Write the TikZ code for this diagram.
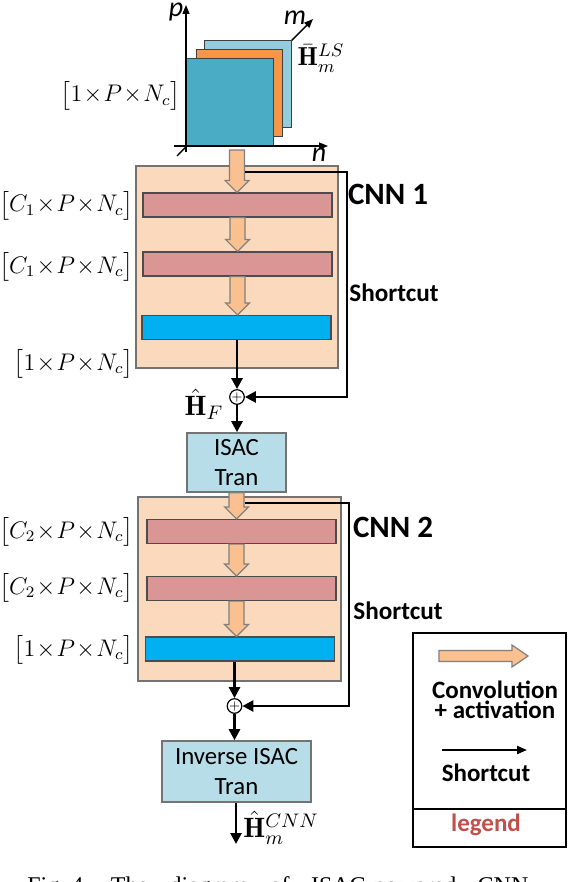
\RequirePackage{fix-cm}
\documentclass[tikz,border=0pt]{standalone}
\usepackage{amsmath,amssymb}
\usepackage{fontspec}
\setsansfont{Carlito}
\newfontfamily\capfont{Liberation Serif}
\usetikzlibrary{arrows.meta,calc,positioning}

\definecolor{sqback}{HTML}{93CDDD}
\definecolor{sqmid}{HTML}{F79646}
\definecolor{sqfront}{HTML}{4BACC6}
\definecolor{cnnfill}{HTML}{FBD9BC}
\definecolor{convfill}{HTML}{FAC090}
\definecolor{convlayer}{HTML}{D99694}
\definecolor{outlayer}{HTML}{00B0F0}
\definecolor{tranfill}{HTML}{B7DEE8}
\definecolor{legendred}{HTML}{C0504D}

\tikzset{
  cnnbox/.style={draw=black!55,line width=0.8pt,fill=cnnfill,inner sep=0pt},
  convbar/.style={draw=black!70,line width=0.6pt,fill=convlayer,minimum width=94.5pt,minimum height=12pt,inner sep=0pt},
  outbar/.style={convbar,fill=outlayer},
  tranbox/.style={draw=black!55,line width=0.8pt,fill=tranfill,align=center,inner sep=0pt,font=\sffamily\fontsize{12.4}{15}\selectfont},
  sumnode/.style={circle,draw,line width=0.6pt,fill=white,minimum size=6.5pt,inner sep=0pt,font=\fontsize{6}{6}\selectfont},
  flow/.style={line width=1.3pt,-{Triangle[length=5.5pt,width=5.5pt]}},
  dimlabel/.style={anchor=east,inner sep=0pt,font=\fontsize{12}{14}\selectfont},
  hlabel/.style={inner sep=0pt,font=\fontsize{14}{16}\selectfont},
  cnnname/.style={font=\sffamily\bfseries\fontsize{15.5}{18}\selectfont},
  shortname/.style={font=\sffamily\bfseries\fontsize{12.6}{15}\selectfont},
  axis/.style={line width=0.7pt,-{Triangle[length=4.5pt,width=3.5pt]}},
  axname/.style={inner sep=0pt,font=\sffamily\itshape\fontsize{14}{14}\selectfont},
  square/.style={draw=black!75,line width=0.5pt},
  legendtext/.style={font=\sffamily\bfseries\fontsize{12.5}{10}\selectfont,align=center},
}

% block arrow from the x and y of #1 down to the y of #2
\newcommand{\convarrow}[2]{%
  \filldraw[fill=convfill,draw=black!50,line width=0.6pt] let \p1=#1, \p2=#2 in
    (\x1-3.75pt,\y1) -- (\x1+3.75pt,\y1) -- (\x1+3.75pt,\y2+6pt) -- (\x1+6pt,\y2+6pt)
    -- (\x1,\y2) -- (\x1-6pt,\y2+6pt) -- (\x1-3.75pt,\y2+6pt) -- cycle;}
\newcommand{\dimtext}[1]{$\big[#1\!\times\! P\!\times\! N_c\big]$}

\begin{document}
\begin{tikzpicture}[x=0.5pt,y=-0.5pt]
\useasboundingbox (0,0) rectangle (568,882);
\clip (0,0) rectangle (568,882);

% input: LS estimates
\draw[axis] (177,156) -- (313,19);
\filldraw[square,fill=sqback] (204,41) rectangle (291,128);
\filldraw[square,fill=sqmid] (196,50) rectangle (282,137);
\filldraw[square,fill=sqfront] (186,59) rectangle (273,146);
\draw[axis] (186,152) -- (186,5);
\draw[axis] (174,146) -- (328,146);
\node[axname,anchor=base] (pax) at (176,17) {p};
\node[axname] (max) at (295,18) {m};
\node[axname] (nax) at (319,155) {n};
\node[hlabel,font=\fontsize{13}{15}\selectfont] (hls) at (321,58) {$\bar{\mathbf{H}}_m^{LS}$};
\node[dimlabel] (d0) at (181,96) {\dimtext{1}};

% CNN 1
\node[cnnbox,minimum width=101pt,minimum height=101pt] (cnn1) at (237,267) {};
\node[convbar] (l11) at (237.5,205) {};
\node[convbar] (l12) at (237.5,264) {};
\node[outbar] (l13) at (236.5,327.5) {};
\coordinate (in1) at (237,150);
\convarrow{(in1)}{(l11.north)}
\convarrow{(l11.south)}{(l12.north)}
\convarrow{(l12.south)}{(l13.north)}
\node[dimlabel] (d11) at (134,206) {\dimtext{C_1}};
\node[dimlabel] (d12) at (134,267) {\dimtext{C_1}};
\node[dimlabel] (d13) at (134,364) {\dimtext{1}};
\node[sumnode] (sum1) at (237,397) {$+$};
\draw[flow] (l13.south -| sum1.north) -- (sum1.north);
\coordinate (sc1) at (245,172);
\coordinate (sc1r) at (347,172);
\draw[flow] (sc1) -- (sc1r) |- (sum1.east);
\node[cnnname] (cnn1name) at (388,194) {CNN 1};
\node[shortname] (sc1name) at (394,293) {Shortcut};
\node[hlabel] (hf) at (204,404) {$\hat{\mathbf{H}}_F$};

% ISAC transform
\node[tranbox,minimum width=49.5pt,minimum height=29.5pt] (tran1) at (236.5,462.5) {ISAC\\Tran};
\draw[flow] (sum1.south) -- (sum1.south |- tran1.north);

% CNN 2
\node[cnnbox,minimum width=101.5pt,minimum height=92pt] (cnn2) at (239.5,589) {};
\node[convbar] (l21) at (241.5,531.5) {};
\node[convbar] (l22) at (241.5,588.5) {};
\node[outbar] (l23) at (240,649) {};
\convarrow{(tran1.south)}{(l21.north)}
\convarrow{(l21.south -| tran1.south)}{(l22.north)}
\convarrow{(l22.south -| tran1.south)}{(l23.north)}
\node[dimlabel] (d21) at (134,532) {\dimtext{C_2}};
\node[dimlabel] (d22) at (134,588) {\dimtext{C_2}};
\node[dimlabel] (d23) at (134,650) {\dimtext{1}};
\node[sumnode] (sum2) at (234.5,706) {$+$};
\draw[flow] (l23.south -| sum2.north) -- (sum2.north);
\coordinate (sc2) at (245,503);
\coordinate (sc2r) at (349,503);
\draw[flow] (sc2) -- (sc2r) |- (sum2.east);
\node[cnnname] (cnn2name) at (393,527) {CNN 2};
\node[shortname] (sc2name) at (398,611) {Shortcut};

% inverse transform and output
\node[tranbox,minimum width=74.5pt,minimum height=30.5pt] (tran2) at (236.5,771.5) {Inverse ISAC\\Tran};
\draw[flow] (sum2.south) -- (sum2.south |- tran2.north);
\coordinate (out) at (236,844);
\draw[flow] (tran2.south -| out) -- (out);
\node[hlabel,anchor=west] (hcnn) at (243,828) {$\hat{\mathbf{H}}_m^{CNN}$};

% legend
\draw[line width=1.3pt] (413,633) rectangle (566,847);
\draw[line width=1pt] (413,809) -- (566,809);
\filldraw[fill=convfill,draw=black!50,line width=0.6pt] (439,650.5) -- (512,650.5) -- (512,645) -- (528,656)
  -- (512,667) -- (512,661.5) -- (439,661.5) -- cycle;
\node[legendtext] (lgconv) at (495,700) {Convolution\\+ activation};
\draw[line width=1pt,-{Triangle[length=5pt,width=4pt]}] (442,750) -- (527,750);
\node[legendtext] (lgshort) at (486,773) {Shortcut};
\node[legendtext,text=legendred] (lgname) at (486,825) {legend};

% caption, cut by the page
\node[anchor=base west,inner sep=0pt,font=\capfont\fontsize{12}{14}\selectfont] (cap) at (27,893)
  {\frenchspacing\makebox[250.5pt][s]{Fig.\hspace{0.25em}4. The diagram of ISAC-powered CNN}};
\end{tikzpicture}
\end{document}
